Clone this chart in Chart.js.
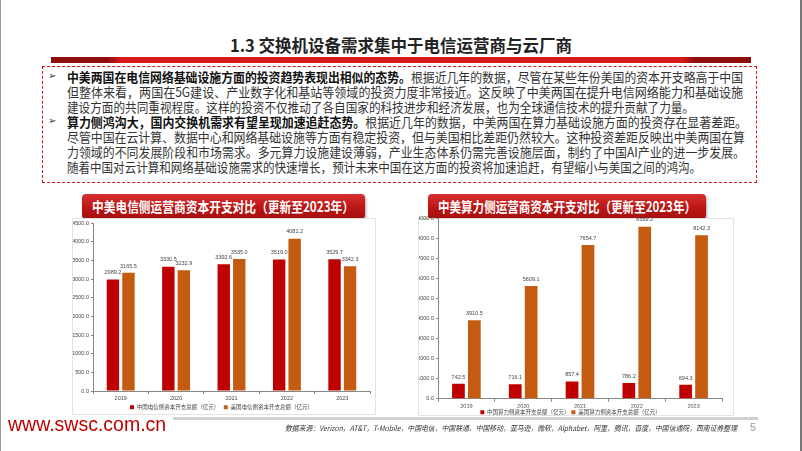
<!DOCTYPE html>
<html><head><meta charset="utf-8">
<script src="https://cdn.jsdelivr.net/npm/chart.js@4.4.1/dist/chart.umd.min.js"></script>
<style>
html,body{margin:0;padding:0;background:#fff;}
body{width:802px;height:451px;position:relative;overflow:hidden;font-family:"Noto Sans CJK SC","Noto Sans",sans-serif;}
.abs{position:absolute;}
.fit{display:inline-block;transform-origin:0 50%;white-space:nowrap;}
#title{left:0;width:802px;top:33px;text-align:center;font-size:16.5px;font-weight:bold;color:#222;line-height:24px;}
#redbar{left:51px;width:700px;top:57px;height:6px;background:linear-gradient(90deg,#8e0d0d 0%,#8e0d0d 8%,#d71a1a 10%,#d71a1a 90%,#8e0d0d 92%,#8e0d0d 100%);}
#box{left:42px;top:66px;width:715px;height:117px;border:1.3px dashed #d01818;box-sizing:border-box;}
.ln{position:absolute;left:67px;white-space:nowrap;font-size:12.8px;line-height:15px;color:#333;}
.ln b{color:#111;}
.bul{position:absolute;left:48px;font-size:10px;color:#333;font-family:"DejaVu Sans";}
.btn{position:absolute;height:25px;border-radius:4px;background:linear-gradient(180deg,#d83030 0%,#b81414 60%,#a80e0e 100%);box-shadow:1px 2px 3px rgba(0,0,0,0.35);}
.btn span{position:absolute;top:0;color:#fff;font-weight:bold;font-size:14px;line-height:25px;}
.panel{position:absolute;border:1px solid #e2e2e2;box-sizing:border-box;background:#fff;}
#gline{left:173px;width:585px;top:417px;height:3px;background:#cfcfcf;}
#www{left:8px;top:413px;font-family:"Liberation Sans",Arial,sans-serif;font-size:19.5px;color:#c00000;}
#src{left:285px;top:422px;font-size:7.6px;font-style:italic;color:#333;}
#pg{left:750px;top:421px;font-size:11px;color:#999;font-family:"Liberation Sans",Arial;}
#edgeL{left:0;top:0;width:1px;height:451px;background:#999;}
#edgeR{left:800px;top:0;width:2px;height:451px;background:#777;}
</style></head>
<body>
<div class="abs" id="edgeL"></div><div class="abs" id="edgeR"></div>
<div class="abs" id="title">1.3 交换机设备需求集中于电信运营商与云厂商</div>
<div class="abs" id="redbar"></div>
<div class="abs" id="box"></div>
<div class="bul" style="top:70px">➢</div>
<div class="bul" style="top:115px">➢</div>
<div class="ln" style="top:69px"><span class="fit" data-w="676"><b>中美两国在电信网络基础设施方面的投资趋势表现出相似的态势。</b>根据近几年的数据，尽管在某些年份美国的资本开支略高于中国</span></div>
<div class="ln" style="top:84px"><span class="fit" data-w="676">但整体来看，两国在5G建设、产业数字化和基站等领域的投资力度非常接近。这反映了中美两国在提升电信网络能力和基础设施</span></div>
<div class="ln" style="top:99px"><span class="fit" data-w="627">建设方面的共同重视程度。这样的投资不仅推动了各自国家的科技进步和经济发展，也为全球通信技术的提升贡献了力量。</span></div>
<div class="ln" style="top:114px"><span class="fit" data-w="680"><b>算力侧鸿沟大，国内交换机需求有望呈现加速追赶态势。</b>根据近几年的数据，中美两国在算力基础设施方面的投资存在显著差距。</span></div>
<div class="ln" style="top:129px"><span class="fit" data-w="678">尽管中国在云计算、数据中心和网络基础设施等方面有稳定投资，但与美国相比差距仍然较大。这种投资差距反映出中美两国在算</span></div>
<div class="ln" style="top:144px"><span class="fit" data-w="678">力领域的不同发展阶段和市场需求。多元算力设施建设薄弱，产业生态体系仍需完善设施层面，制约了中国AI产业的进一步发展。</span></div>
<div class="ln" style="top:159px"><span class="fit" data-w="634">随着中国对云计算和网络基础设施需求的快速增长，预计未来中国在这方面的投资将加速追赶，有望缩小与美国之间的鸿沟。</span></div>

<div class="btn" style="left:82px;top:194px;width:283px;"><span class="fit" data-w="262" style="left:10px">中美电信侧运营商资本开支对比（更新至2023年）</span></div>
<div class="btn" style="left:428px;top:194px;width:278px;"><span class="fit" data-w="258" style="left:10px">中美算力侧运营商资本开支对比（更新至2023年）</span></div>

<div class="panel" style="left:72px;top:218px;width:304px;height:197px;"></div>
<div class="panel" style="left:418px;top:218px;width:316px;height:198px;"></div>
<canvas id="c1" class="abs" style="left:73px;top:214px;" width="302" height="206"></canvas>
<canvas id="c2" class="abs" style="left:419px;top:210px;" width="314" height="215"></canvas>

<div class="abs" id="gline"></div>
<div class="abs" id="www">www.swsc.com.cn</div>
<div class="abs" id="src"><span class="fit" data-w="452">数据来源：Verizon，AT&amp;T，T-Mobile，中国电信，中国联通，中国移动，亚马逊，微软，Alphabet，阿里，腾讯，百度，中国信通院，西南证券整理</span></div>
<div class="abs" id="pg">5</div>

<script>
// ---- data ----
const years = ["2019","2020","2021","2022","2023"];
const telecomChina = [2989.2, 3330.5, 3392.6, 3519.0, 3529.7];
const telecomUS = [3165.5, 3232.9, 3535.0, 4081.2, 3342.3];
const computeChina = [742.5, 716.1, 857.4, 786.2, 694.3];
const computeUS = [3910.5, 5609.1, 7654.7, 8569.2, 8142.3];
const telecomLabels = ["中国电信侧资本开支总额（亿元）","美国电信侧资本开支总额（亿元）"];
const computeLabels = ["中国算力侧资本开支总额（亿元）","美国算力侧资本开支总额（亿元）"];
const colChina = "#c00000", colUS = "#c55a11";

// fit text lines to measured widths
document.querySelectorAll(".fit").forEach(el=>{
  const w = el.getBoundingClientRect().width;
  const t = parseFloat(el.dataset.w);
  el.style.transform = "scaleX(" + (t/w) + ")";
});

const valueLabels = {
  id:"valueLabels",
  afterDatasetsDraw(chart){
    const ctx = chart.ctx;
    ctx.save();
    ctx.font = "5.5px 'Liberation Sans', Arial";
    ctx.fillStyle = "#444";
    ctx.textAlign = "center";
    ctx.textBaseline = "bottom";
    chart.data.datasets.forEach((ds,i)=>{
      chart.getDatasetMeta(i).data.forEach((el,j)=>{
        ctx.fillText(ds.data[j].toFixed(1), el.x, el.y - 4);
      });
    });
    ctx.restore();
  }
};

function make(id, china, us, labels, max, step, yW, xH, legPad, pad){
  return new Chart(document.getElementById(id), {
    type:"bar",
    data:{labels:years, datasets:[
      {label:labels[0], data:china, backgroundColor:colChina, categoryPercentage:0.56, barPercentage:0.8},
      {label:labels[1], data:us, backgroundColor:colUS, categoryPercentage:0.56, barPercentage:0.8}
    ]},
    options:{
      responsive:false, animation:false, devicePixelRatio:1,
      layout:{padding:pad},
      plugins:{
        legend:{position:"bottom", labels:{font:{size:5.5, family:"'Noto Sans CJK SC'"}, color:"#444", boxWidth:4, boxHeight:4, padding:legPad}},
        tooltip:{enabled:false}
      },
      scales:{
        x:{offset:true, grid:{display:true, drawOnChartArea:false, offset:true, tickLength:3, color:"#888"}, border:{color:"#888"},
           ticks:{font:{size:5.5, family:"'Liberation Sans'"}, color:"#444", padding:1},
           afterFit:s=>{s.height=xH;}},
        y:{min:0, max:max, ticks:{stepSize:step, callback:v=>v.toFixed(1), font:{size:5.5, family:"'Liberation Sans'"}, color:"#444", padding:2},
           grid:{display:true, drawOnChartArea:false, tickLength:2, color:"#888"}, border:{color:"#888"},
           afterFit:s=>{s.width=yW;}}
      }
    },
    plugins:[valueLabels]
  });
}
make("c1", telecomChina, telecomUS, telecomLabels, 4500, 500, 20, 9, 4.5, {top:9,left:0,right:5,bottom:0});
make("c2", computeChina, computeUS, computeLabels, 9000, 1000, 19, 9, 1.8, {top:8,left:0,right:11,bottom:0});
</script>
</body></html>
